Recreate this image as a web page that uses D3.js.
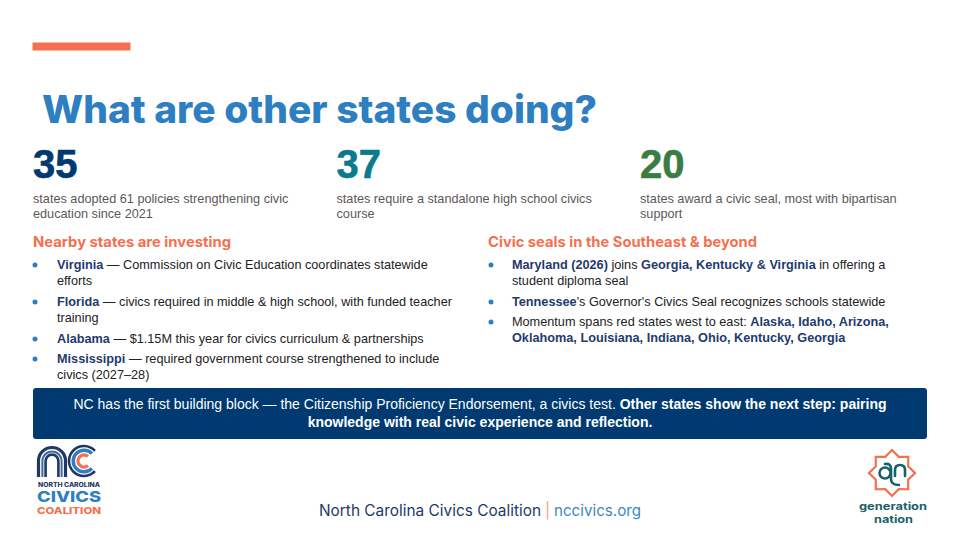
<!DOCTYPE html>
<html>
<head>
<meta charset="utf-8">
<script src="https://cdn.jsdelivr.net/npm/d3@7"></script>
<style>
  html, body { margin: 0; padding: 0; background: #fff; }
  svg { display: block; }
</style>
</head>
<body>
<div id="slide"></div>
<script>
var titleText = "What are other states doing?";

var statValues = ["35", "37", "20"];
var statColors = ["#003a70", "#0b7a8f", "#3a7d44"];
var statLines = [
  ["states adopted 61 policies strengthening civic", "education since 2021"],
  ["states require a standalone high school civics", "course"],
  ["states award a civic seal, most with bipartisan", "support"]
];

var leftHead = "Nearby states are investing";
var rightHead = "Civic seals in the Southeast & beyond";

// each line is a list of [text, isBold]
var leftBullets = [
  [[["Virginia", 1], [" — Commission on Civic Education coordinates statewide", 0]], [["efforts", 0]]],
  [[["Florida", 1], [" — civics required in middle & high school, with funded teacher", 0]], [["training", 0]]],
  [[["Alabama", 1], [" — $1.15M this year for civics curriculum & partnerships", 0]]],
  [[["Mississippi", 1], [" — required government course strengthened to include", 0]], [["civics (2027–28)", 0]]]
];
var rightBullets = [
  [[["Maryland (2026)", 1], [" joins ", 0], ["Georgia, Kentucky & Virginia", 1], [" in offering a", 0]], [["student diploma seal", 0]]],
  [[["Tennessee", 1], ["'s Governor's Civics Seal recognizes schools statewide", 0]]],
  [[["Momentum spans red states west to east: ", 0], ["Alaska, Idaho, Arizona,", 1]], [["Oklahoma, Louisiana, Indiana, Ohio, Kentucky, Georgia", 1]]]
];
var leftBaselines = [[269, 285], [306, 322], [343], [363, 379]];
var rightBaselines = [[269, 285], [306], [326, 342]];

var bannerLines = [
  [["NC has the first building block — the Citizenship Proficiency Endorsement, a civics test. ", 0], ["Other states show the next step: pairing", 1]],
  [["knowledge with real civic experience and reflection.", 1]]
];

var footerParts = ["North Carolina Civics Coalition", "|", "nccivics.org"];
var footerColors = ["#1d3a66", "#f29b7f", "#3d87c8"];
var footerStarts = [319, 546, 554];
var footerWidths = [222, 3, 87];

var bodyFont = "'Liberation Sans', Arial, sans-serif";
var headFont = "Inter, 'Noto Sans', sans-serif";
var navy = "#1f3a6e";
var coral = "#f4704f";
var blue = "#2e7ec2";
var teal = "#17616b";

var svg = d3.select("#slide").append("svg").attr("width", 960).attr("height", 540);
svg.append("rect").attr("width", 960).attr("height", 540).attr("fill", "#fff");

// accent bar
svg.append("rect").attr("x", 32.5).attr("y", 42.5).attr("width", 98).attr("height", 8).attr("fill", coral);

// title
svg.append("text")
  .attr("x", 42).attr("y", 123)
  .attr("textLength", 555).attr("lengthAdjust", "spacingAndGlyphs")
  .style("font-family", headFont).style("font-weight", 800).style("font-size", "38px")
  .attr("fill", blue)
  .text(titleText);

// three stat columns
var statX = d3.scalePoint().domain(d3.range(statValues.length)).range([33, 640]);

statValues.forEach(function(v, i) {
  svg.append("text")
    .attr("x", statX(i)).attr("y", 178)
    .style("font-family", bodyFont).style("font-weight", 700).style("font-size", "40px")
    .attr("fill", statColors[i]).attr("stroke", statColors[i]).attr("stroke-width", 0.6)
    .text(v);
  statLines[i].forEach(function(line, j) {
    svg.append("text")
      .attr("x", statX(i)).attr("y", 202.5 + j * 15.5)
      .style("font-family", bodyFont).style("font-size", "12.7px")
      .attr("fill", "#595959")
      .text(line);
  });
});

function richLine(sel, parts, normalColor, boldColor) {
  sel.selectAll("tspan").data(parts).enter().append("tspan")
    .attr("fill", function(d) { return d[1] ? boldColor : normalColor; })
    .style("font-weight", function(d) { return d[1] ? 700 : 400; })
    .style("white-space", "pre")
    .text(function(d) { return d[0]; });
}

function drawList(head, headWidth, bullets, baselines, headX, dotX, textX) {
  svg.append("text")
    .attr("x", headX).attr("y", 247)
    .attr("textLength", headWidth).attr("lengthAdjust", "spacingAndGlyphs")
    .style("font-family", headFont).style("font-weight", 700).style("font-size", "14.5px")
    .attr("fill", coral)
    .text(head);
  bullets.forEach(function(lines, i) {
    svg.append("circle")
      .attr("cx", dotX).attr("cy", baselines[i][0] - 4).attr("r", 2.5)
      .attr("fill", blue);
    lines.forEach(function(parts, j) {
      var t = svg.append("text")
        .attr("x", textX).attr("y", baselines[i][j])
        .attr("xml:space", "preserve")
        .style("font-family", bodyFont).style("font-size", "12.7px");
      richLine(t, parts, "#222", navy);
    });
  });
}

drawList(leftHead, 198, leftBullets, leftBaselines, 33, 35, 57);
drawList(rightHead, 269, rightBullets, rightBaselines, 488, 491, 512);

// banner
svg.append("rect")
  .attr("x", 33).attr("y", 388).attr("width", 894).attr("height", 51).attr("rx", 3)
  .attr("fill", "#003a70");
bannerLines.forEach(function(parts, i) {
  var t = svg.append("text")
    .attr("x", 480).attr("y", 409 + i * 18)
    .attr("text-anchor", "middle")
    .attr("xml:space", "preserve")
    .style("font-family", bodyFont).style("font-size", "14px");
  richLine(t, parts, "#fff", "#fff");
});

// footer
footerParts.forEach(function(part, i) {
  svg.append("text")
    .attr("x", footerStarts[i]).attr("y", 516)
    .attr("textLength", footerWidths[i]).attr("lengthAdjust", "spacingAndGlyphs")
    .style("font-family", headFont).style("font-size", "15.5px")
    .style("font-weight", i === 1 ? 700 : 400)
    .attr("fill", footerColors[i])
    .text(part);
});

// NC logo: n arch and nested C
var nc = svg.append("g").attr("transform", "translate(52,461)");
[[13.5, 3.2, "#1f3864"], [9.6, 2, "#3d6a9e"], [6.4, 2.6, "#1f3864"]].forEach(function(a) {
  nc.append("path")
    .attr("d", "M" + (-a[0]) + " 16 V0 A" + a[0] + " " + a[0] + " 0 0 1 " + a[0] + " 0 V16")
    .attr("fill", "none").attr("stroke", a[2]).attr("stroke-width", a[1]);
});
[[15, 2.6, "#1f3864", 0.75], [10.8, 3.4, blue, 0.75], [6, 3.4, coral, 0.85]].forEach(function(a) {
  nc.append("path")
    .attr("d", d3.arc().innerRadius(a[0] - a[1] / 2).outerRadius(a[0] + a[1] / 2)
      .startAngle(Math.PI / 2 + a[3]).endAngle(Math.PI / 2 + 2 * Math.PI - a[3])())
    .attr("transform", "translate(32,0)")
    .attr("fill", a[2]);
});
nc.append("text").attr("x", -14).attr("y", 25.5)
  .attr("textLength", 62).attr("lengthAdjust", "spacingAndGlyphs")
  .style("font-family", headFont).style("font-weight", 800).style("font-size", "6px")
  .attr("fill", "#1f3864").text("NORTH CAROLINA");
nc.append("text").attr("x", -15).attr("y", 40.5)
  .attr("textLength", 64).attr("lengthAdjust", "spacingAndGlyphs")
  .style("font-family", headFont).style("font-weight", 800).style("font-size", "15px")
  .attr("fill", blue).text("CIVICS");
nc.append("text").attr("x", -15).attr("y", 53)
  .attr("textLength", 64).attr("lengthAdjust", "spacingAndGlyphs")
  .style("font-family", headFont).style("font-weight", 800).style("font-size", "9px")
  .attr("fill", coral).text("COALITION");

// generation nation logo
var gn = svg.append("g").attr("transform", "translate(892,473)");
var star = d3.range(16).map(function(i) {
  var r = i % 2 ? 17.5 : 23;
  var a = i * Math.PI / 8;
  return [r * Math.sin(a), -r * Math.cos(a)];
});
gn.append("path").attr("d", d3.line().curve(d3.curveLinearClosed)(star))
  .attr("fill", "none").attr("stroke", coral).attr("stroke-width", 2.2);
gn.append("circle").attr("cx", -7).attr("cy", 0).attr("r", 5.5)
  .attr("fill", "none").attr("stroke", teal).attr("stroke-width", 2.6);
// g stem runs down into the tail, n arch beside it
gn.append("path").attr("d", "M-7 -9 Q-1 -10 -1 -4 V6 Q-1 12 7 12 M3 3 V-3 Q3 -8 8 -8 Q13 -8 13 -3 V3")
  .attr("fill", "none").attr("stroke", teal).attr("stroke-width", 2.6).attr("stroke-linecap", "round");
gn.append("text").attr("x", -33).attr("y", 37)
  .attr("textLength", 68).attr("lengthAdjust", "spacingAndGlyphs")
  .style("font-family", headFont).style("font-weight", 700).style("font-size", "10.5px")
  .attr("fill", teal).text("generation");
gn.append("text").attr("x", -18).attr("y", 50)
  .attr("textLength", 39).attr("lengthAdjust", "spacingAndGlyphs")
  .style("font-family", headFont).style("font-weight", 700).style("font-size", "10.5px")
  .attr("fill", teal).text("nation");
</script>
</body>
</html>
